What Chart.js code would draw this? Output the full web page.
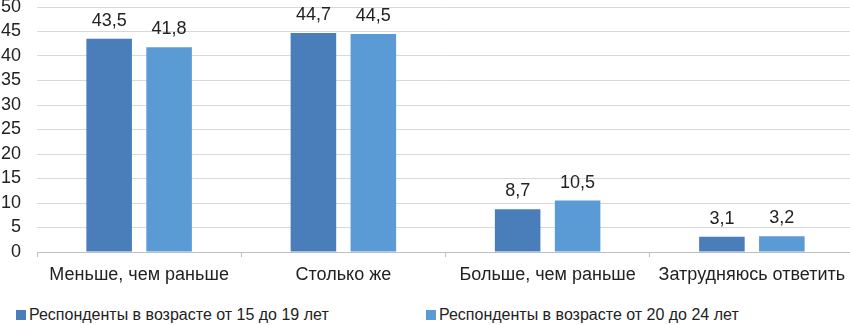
<!DOCTYPE html>
<html lang="ru">
<head>
<meta charset="utf-8">
<script src="https://cdn.jsdelivr.net/npm/chart.js@4"></script>
<style>
  html, body { margin: 0; padding: 0; background: #fff; overflow: hidden; width: 850px; height: 325px; }
  .wrap { position: relative; width: 856px; height: 295px; }
  .legend { position: absolute; top: 305px; left: 0; font: 16px "Liberation Sans", Arial, sans-serif; color: #222; }
  .legend span { position: absolute; white-space: nowrap; line-height: 20px; }
  .legend i { position: absolute; top: 5px; width: 10px; height: 10px; }
</style>
</head>
<body>
<div class="wrap"><canvas id="myChart"></canvas></div>
<div class="legend" id="legend"></div>
<script>
const categories = ['Меньше, чем раньше', 'Столько же', 'Больше, чем раньше', 'Затрудняюсь ответить'];
const seriesNames = ['Респонденты в возрасте от 15 до 19 лет', 'Респонденты в возрасте от 20 до 24 лет'];
const age15to19 = [43.5, 44.7, 8.7, 3.1];
const age20to24 = [41.8, 44.5, 10.5, 3.2];
const colors = ['#4a7ebb', '#5b9bd5'];

const font = { family: '"Liberation Sans", Arial, sans-serif', size: 18 };

// подписи значений над столбиками
const valueLabels = {
  id: 'valueLabels',
  afterDatasetsDraw(chart) {
    const c = chart.ctx;
    c.save();
    c.font = '18px ' + font.family;
    c.fillStyle = '#222';
    c.textAlign = 'center';
    c.textBaseline = 'middle';
    chart.data.datasets.forEach((ds, i) => {
      chart.getDatasetMeta(i).data.forEach((bar, j) => {
        c.fillText(String(ds.data[j]).replace('.', ','), bar.x, bar.y - 18);
      });
    });
    c.restore();
  }
};

const ctx = document.getElementById('myChart');

new Chart(ctx, {
  type: 'bar',
  data: {
    labels: categories,
    datasets: [
      { label: seriesNames[0], data: age15to19, backgroundColor: colors[0] },
      { label: seriesNames[1], data: age20to24, backgroundColor: colors[1] }
    ]
  },
  options: {
    responsive: true,
    maintainAspectRatio: false,
    animation: false,
    categoryPercentage: 0.587,
    barPercentage: 0.76,
    layout: { padding: { top: 0, right: 2, left: 0, bottom: 0 } },
    scales: {
      x: {
        grid: { offset: true, drawOnChartArea: false, drawTicks: true, tickLength: 5, color: '#bfbfbf' },
        border: { color: '#bfbfbf' },
        ticks: { font: font, color: '#222', padding: 7, maxRotation: 0, autoSkip: false },
        afterFit(scale) { scale.height = 43; }
      },
      y: {
        min: 0,
        max: 50,
        ticks: { stepSize: 5, font: font, color: '#222', padding: 16, autoSkip: false },
        grid: { color: '#d9d9d9', drawTicks: false },
        border: { display: false },
        afterFit(scale) {
          scale.width = 37;
          scale.paddingTop = 7;
        }
      }
    },
    plugins: {
      legend: { display: false },
      title: { display: false },
      tooltip: { enabled: false }
    }
  },
  plugins: [valueLabels]
});

// легенда внизу
const legend = document.getElementById('legend');
const legendX = [16, 426];
seriesNames.forEach((name, i) => {
  const box = document.createElement('i');
  box.style.left = legendX[i] + 'px';
  box.style.background = colors[i];
  const text = document.createElement('span');
  text.style.left = (legendX[i] + 13) + 'px';
  text.textContent = name;
  legend.appendChild(box);
  legend.appendChild(text);
});
</script>
</body>
</html>
